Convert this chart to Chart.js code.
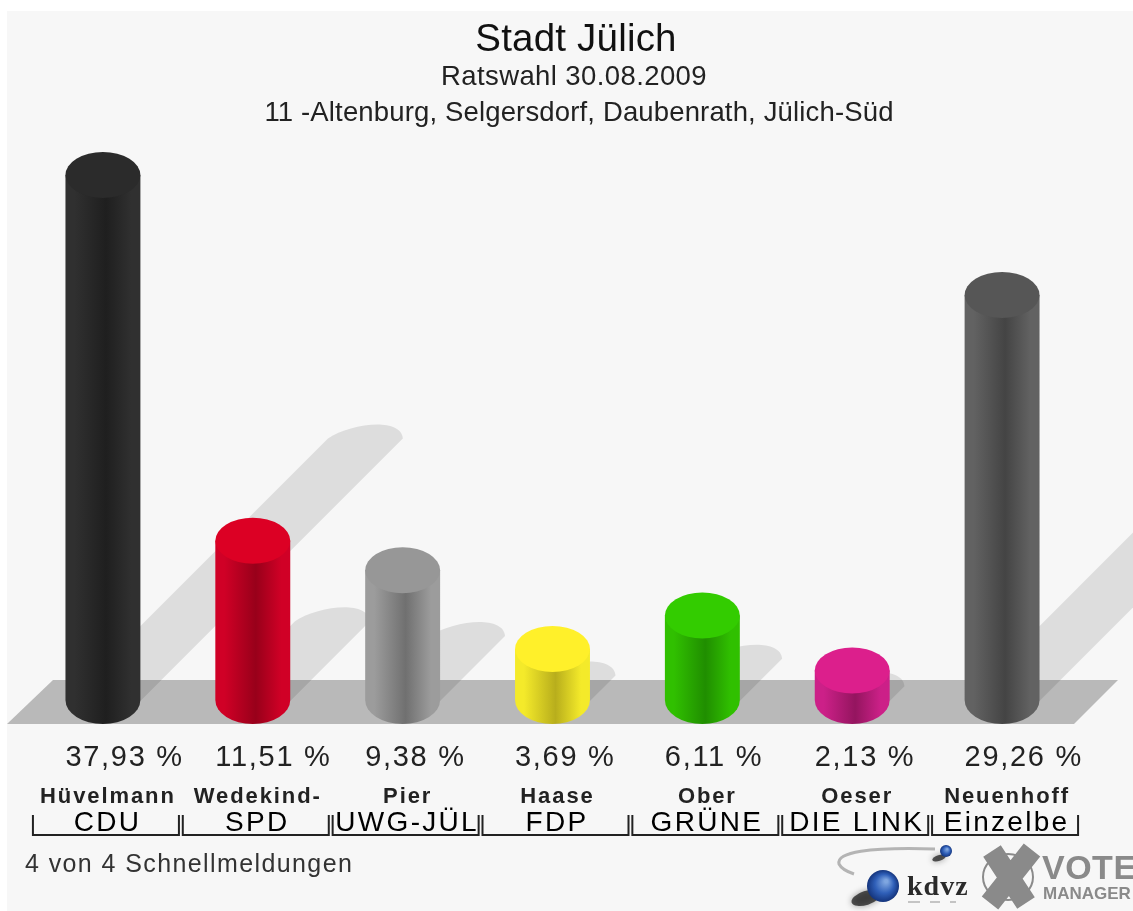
<!DOCTYPE html>
<html lang="de">
<head>
<meta charset="utf-8">
<title>Stadt Jülich</title>
<style>
    html, body { margin: 0; height: 100%; background: #fff; overflow: hidden; }
    #panel { position: absolute; left: 7px; top: 11px; right: 0; bottom: 0; background: #f7f7f7; }
    #wrap { position: absolute; left: 0; top: 0; width: 1133px; height: 911px; filter: blur(0.5px); }
</style>
</head>
<body>
<div id="panel"></div>
<div id="wrap"><canvas id="chart"></canvas></div>
<script src="https://cdn.jsdelivr.net/npm/chart.js@4"></script>
<script>
const titleText = 'Stadt Jülich';
const subtitleLines = ['Ratswahl 30.08.2009', '11 -Altenburg, Selgersdorf, Daubenrath, Jülich-Süd'];
const candidates = ['Hüvelmann', 'Wedekind-', 'Pier', 'Haase', 'Ober', 'Oeser', 'Neuenhoff'];
const parties = ['CDU', 'SPD', 'UWG-JÜL', 'FDP', 'GRÜNE', 'DIE LINK', 'Einzelbe'];
const values = [37.93, 11.51, 9.38, 3.69, 6.11, 2.13, 29.26];
const percentLabels = ['37,93 %', '11,51 %', '9,38 %', '3,69 %', '6,11 %', '2,13 %', '29,26 %'];
const footnote = '4 von 4 Schnellmeldungen';

// Farben je Partei: Deckel, Seite, dunkle Mitte
const capColors = ['#2b2b2b', '#dc0024', '#979797', '#fff02a', '#33cc00', '#dc1f8c', '#565656'];
const sideColors = ['#303030', '#d00026', '#9c9c9c', '#f4ea2a', '#30c000', '#cc2088', '#626262'];
const darkColors = ['#1f1f1f', '#98001a', '#707070', '#b8ae1c', '#208e00', '#94155f', '#444444'];

const FONT = '"Liberation Sans", Arial, sans-serif';
const RY = 23;

const sideGradient = (ctx, cx, half, i) => {
    const g = ctx.createLinearGradient(cx - half, 0, cx + half, 0);
    g.addColorStop(0, sideColors[i]);
    g.addColorStop(0.12, sideColors[i]);
    g.addColorStop(0.54, darkColors[i]);
    g.addColorStop(0.88, sideColors[i]);
    g.addColorStop(1, sideColors[i]);
    return g;
};

const text = (ctx, str, x, y, font, color, spacing, align = 'center') => {
    ctx.font = font;
    ctx.fillStyle = color;
    ctx.letterSpacing = spacing + 'px';
    ctx.textAlign = align;
    ctx.textBaseline = 'middle';
    ctx.fillText(str, x, y);
};

const floorPlugin = {
    id: 'floor',
    beforeDatasetsDraw(chart) {
        const ctx = chart.ctx, y0 = chart.scales.y.getPixelForValue(0);
        ctx.save();
        ctx.fillStyle = '#b9b9b9';
        ctx.beginPath();
        ctx.moveTo(7, y0 + 24);
        ctx.lineTo(1074, y0 + 24);
        ctx.lineTo(1118, y0 - 20);
        ctx.lineTo(53, y0 - 20);
        ctx.closePath();
        ctx.fill();

        // Schlagschatten, Länge folgt der Säulenhöhe
        ctx.fillStyle = 'rgba(0,0,0,0.1)';
        chart.getDatasetMeta(0).data.forEach(bar => {
            const half = bar.width / 2, d = (y0 - bar.y) * 0.5, by = y0 + 1;
            const l = bar.x - half + d, r = bar.x + half + d, ty = by - d;
            ctx.beginPath();
            ctx.moveTo(bar.x - half, by);
            ctx.lineTo(l, ty);
            ctx.bezierCurveTo(l + 22, ty - 15, r - 2, ty - 22, r, ty);
            ctx.lineTo(bar.x + half, by);
            ctx.closePath();
            ctx.fill();
        });
        ctx.restore();
    }
};

const cylinderPlugin = {
    id: 'cylinder',
    afterDatasetsDraw(chart) {
        const ctx = chart.ctx, y0 = chart.scales.y.getPixelForValue(0);
        ctx.save();
        chart.getDatasetMeta(0).data.forEach((bar, i) => {
            const half = bar.width / 2;
            ctx.fillStyle = sideGradient(ctx, bar.x, half, i);
            ctx.beginPath();
            ctx.ellipse(bar.x, y0, half, RY + 1, 0, 0, Math.PI);
            ctx.fill();
            ctx.fillStyle = capColors[i];
            ctx.beginPath();
            ctx.ellipse(bar.x, bar.y, half, RY, 0, 0, Math.PI * 2);
            ctx.fill();
        });
        ctx.restore();
    }
};

const labelPlugin = {
    id: 'labels',
    afterDraw(chart) {
        const ctx = chart.ctx, scale = chart.scales.x;
        ctx.save();
        text(ctx, titleText, 576, 40, `38.5px ${FONT}`, '#111', 0.2);
        text(ctx, subtitleLines[0], 574, 77, `27.5px ${FONT}`, '#222', 0.4);
        text(ctx, subtitleLines[1], 579, 113, `27.5px ${FONT}`, '#222', 0.15);
        candidates.forEach((name, i) => {
            const cx = scale.getPixelForValue(i);
            text(ctx, percentLabels[i], cx - 37.5, 758, `29px ${FONT}`, '#222', 1.7, 'left');
            text(ctx, name, cx + 5, 797, `bold 22px ${FONT}`, '#222', 1.9);
            text(ctx, parties[i], cx + 4.5, 823, `28px ${FONT}`, '#000', 2.3);

            ctx.strokeStyle = '#222';
            ctx.lineWidth = 2;
            ctx.beginPath();
            ctx.moveTo(cx - 70, 815);
            ctx.lineTo(cx - 70, 835);
            ctx.lineTo(cx + 76, 835);
            ctx.lineTo(cx + 76, 815);
            ctx.stroke();
        });
        text(ctx, footnote, 25, 865, `25px ${FONT}`, '#333', 1.4, 'left');
        drawLogos(ctx);
        ctx.restore();
    }
};

function sphere(ctx, x, y, r) {
    const g = ctx.createRadialGradient(x + r * 0.2, y - r * 0.3, r * 0.1, x, y, r);
    g.addColorStop(0, '#7fa6e0');
    g.addColorStop(0.55, '#2f5fb8');
    g.addColorStop(1, '#14347c');
    ctx.fillStyle = g;
    ctx.beginPath();
    ctx.arc(x, y, r, 0, Math.PI * 2);
    ctx.fill();
}

function drawLogos(ctx) {
    // kdvz
    ctx.strokeStyle = '#b4b4b4';
    ctx.lineWidth = 3;
    ctx.beginPath();
    ctx.moveTo(935, 849);
    ctx.quadraticCurveTo(835, 846, 839, 864);
    ctx.quadraticCurveTo(842, 870, 854, 874);
    ctx.stroke();

    ctx.fillStyle = 'rgba(20,20,20,0.7)';
    ctx.shadowColor = 'rgba(20,20,20,0.6)';
    ctx.shadowBlur = 6;
    ctx.beginPath();
    ctx.ellipse(866, 898, 15, 7, -0.3, 0, Math.PI * 2);
    ctx.fill();
    ctx.beginPath();
    ctx.ellipse(939, 858, 7, 3, -0.3, 0, Math.PI * 2);
    ctx.fill();
    ctx.shadowBlur = 0;
    ctx.shadowColor = 'transparent';
    sphere(ctx, 883, 886, 16);
    sphere(ctx, 946, 851, 6);
    text(ctx, 'kdvz', 907, 888, `bold 28px "Liberation Serif", serif`, '#2a2a2a', 1, 'left');

    ctx.fillStyle = '#c4c4c4';
    [[908, 12], [930, 10], [950, 6]].forEach(([x, w]) => ctx.fillRect(x, 901, w, 2));

    // Vote Manager
    ctx.strokeStyle = '#8a8a8a';
    ctx.lineWidth = 2;
    ctx.beginPath();
    ctx.ellipse(1008, 877, 25, 23, 0, 0, Math.PI * 2);
    ctx.stroke();
    ctx.lineWidth = 21;
    ctx.beginPath();
    ctx.moveTo(992, 851);
    ctx.lineTo(1026, 903);
    ctx.moveTo(1032, 850);
    ctx.lineTo(990, 903);
    ctx.stroke();
    text(ctx, 'VOTE', 1042, 870, `bold 34px ${FONT}`, '#8a8a8a', 0.5, 'left');
    text(ctx, 'MANAGER', 1043, 894, `bold 17px ${FONT}`, '#8a8a8a', 0, 'left');
}

new Chart(document.getElementById('chart'), {
    type: 'bar',
    data: {
        labels: parties,
        datasets: [{
            data: values,
            barPercentage: 0.5,
            categoryPercentage: 1,
            borderWidth: 0,
            backgroundColor: c => {
                if (!c.chart.chartArea) return sideColors[c.dataIndex];
                const cx = c.chart.scales.x.getPixelForValue(c.dataIndex);
                const half = c.chart.scales.x.width / 7 / 4;
                return sideGradient(c.chart.ctx, cx, half, c.dataIndex);
            }
        }]
    },
    options: {
        responsive: true,
        maintainAspectRatio: false,
        animation: false,
        layout: { padding: { left: 28, right: 56, top: 146.4, bottom: 211 } },
        scales: {
            x: { display: false },
            y: { display: false, min: 0, max: 40 }
        },
        plugins: {
            legend: { display: false },
            tooltip: { enabled: false },
            title: { display: false }
        }
    },
    plugins: [floorPlugin, cylinderPlugin, labelPlugin]
});
</script>
</body>
</html>
